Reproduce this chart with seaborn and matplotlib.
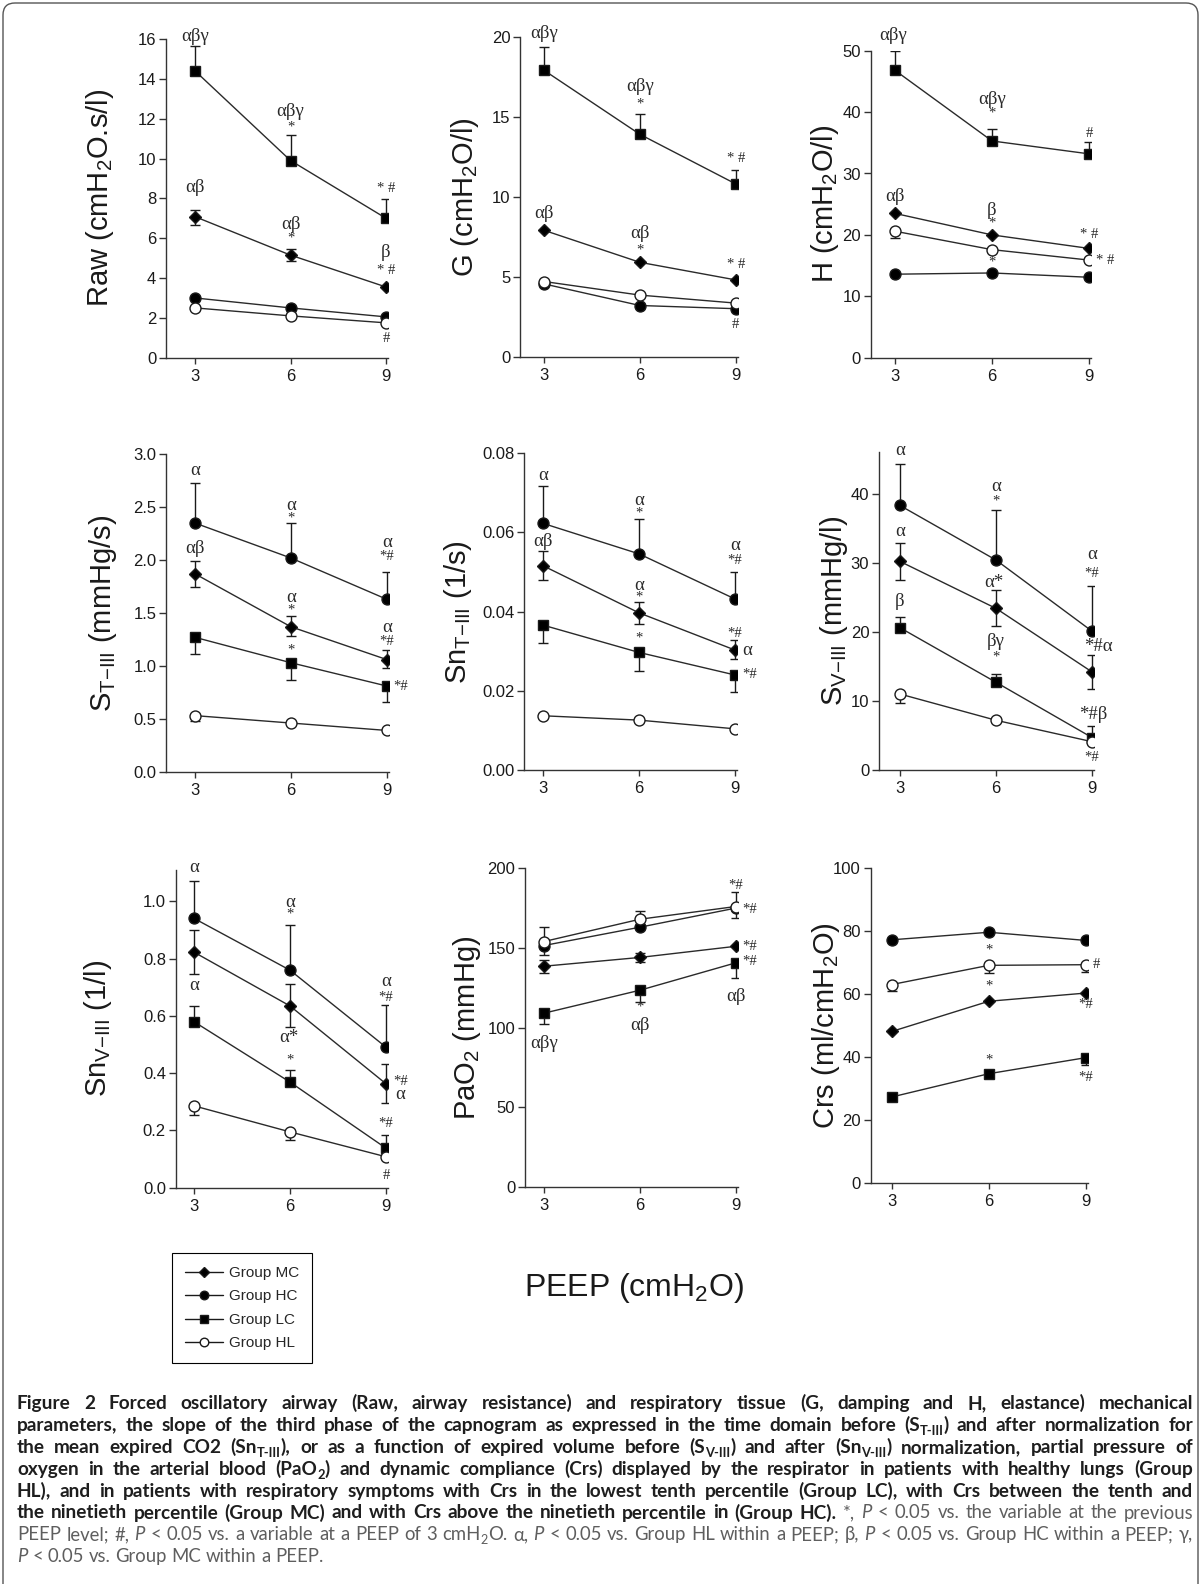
import re
import numpy as np
import pandas as pd
import matplotlib
matplotlib.use("Agg")
import matplotlib.pyplot as plt
import seaborn as sns
from matplotlib.lines import Line2D
from matplotlib.patches import FancyBboxPatch
from matplotlib.transforms import IdentityTransform
from matplotlib import font_manager

# ---------------- data ----------------
PEEP = [3, 6, 9]
GROUPS = ["MC", "HC", "LC", "HL"]
GROUP_LABELS = ["Group MC", "Group HC", "Group LC", "Group HL"]

raw_mean = {"MC": [7.08, 5.15, 3.55], "HC": [3.0, 2.5, 2.05], "LC": [14.4, 9.9, 7.0], "HL": [2.5, 2.1, 1.75]}
raw_hi = {"MC": [0.35, 0.3, 0.0], "LC": [1.25, 1.3, 0.95]}
raw_lo = {"MC": [0.4, 0.3, 0.0]}

g_mean = {"MC": [7.9, 5.9, 4.8], "HC": [4.55, 3.2, 3.0], "LC": [17.9, 13.9, 10.8], "HL": [4.7, 3.85, 3.35]}
g_hi = {"LC": [1.45, 1.3, 0.9]}
g_lo = {}

h_mean = {"MC": [23.5, 20.0, 17.8], "HC": [13.6, 13.8, 13.1], "LC": [46.8, 35.3, 33.2], "HL": [20.6, 17.6, 15.9]}
h_hi = {"LC": [3.2, 2.0, 2.0]}
h_lo = {"HL": [1.1, 0.0, 0.0]}

st_mean = {"MC": [1.87, 1.37, 1.06], "HC": [2.35, 2.02, 1.63], "LC": [1.27, 1.03, 0.81], "HL": [0.53, 0.46, 0.39]}
st_hi = {"MC": [0.12, 0.10, 0.09], "HC": [0.38, 0.33, 0.26]}
st_lo = {"MC": [0.12, 0.09, 0.08], "LC": [0.16, 0.16, 0.15], "HL": [0.05, 0.0, 0.0]}

snt_mean = {"MC": [0.0516, 0.0397, 0.0303], "HC": [0.0623, 0.0546, 0.0432], "LC": [0.0366, 0.0297, 0.0240], "HL": [0.0137, 0.0126, 0.0104]}
snt_hi = {"MC": [0.0036, 0.0028, 0.0025], "HC": [0.0095, 0.0087, 0.0069]}
snt_lo = {"MC": [0.0036, 0.0028, 0.0023], "LC": [0.0044, 0.0046, 0.0042]}

sv_mean = {"MC": [30.2, 23.4, 14.2], "HC": [38.3, 30.4, 20.1], "LC": [20.6, 12.7, 4.7], "HL": [11.0, 7.2, 4.1]}
sv_hi = {"MC": [2.7, 2.7, 2.5], "HC": [6.0, 7.2, 6.6], "LC": [1.6, 1.2, 1.7]}
sv_lo = {"MC": [2.7, 2.6, 2.5], "HL": [1.3, 0.0, 0.0]}

snv_mean = {"MC": [0.823, 0.635, 0.363], "HC": [0.941, 0.760, 0.491], "LC": [0.580, 0.369, 0.138], "HL": [0.286, 0.195, 0.108]}
snv_hi = {"MC": [0.079, 0.078, 0.068], "HC": [0.131, 0.158, 0.147], "LC": [0.055, 0.043, 0.046]}
snv_lo = {"MC": [0.078, 0.074, 0.068], "HL": [0.032, 0.028, 0.0]}

pao2_mean = {"MC": [138.5, 144.0, 151.0], "HC": [151.5, 163.0, 175.0], "LC": [109.0, 123.4, 140.6], "HL": [154.0, 168.0, 176.0]}
pao2_hi = {"MC": [4.0, 3.0, 0.0], "HL": [9.0, 5.0, 9.0]}
pao2_lo = {"MC": [4.0, 3.0, 0.0], "HC": [6.0, 0.0, 0.0], "LC": [7.0, 7.4, 9.2], "HL": [0.0, 0.0, 7.5]}

crs_mean = {"MC": [48.1, 57.7, 60.3], "HC": [77.2, 79.6, 77.0], "LC": [27.3, 34.7, 39.8], "HL": [63.0, 69.1, 69.3]}
crs_hi = {}
crs_lo = {"HL": [2.1, 2.4, 2.4], "LC": [0.0, 0.0, 2.2]}

raw_notes = [(3, 16.15, "αβγ"), (6, 12.35, "αβγ"), (6, 11.6, "*"), (9, 8.5, "* #"), (3, 8.55, "αβ"),
             (6, 6.7, "αβ"), (6, 6.0, "*"), (9, 5.3, "β"), (9, 4.4, "* #"), (9, 0.95, "#")]
g_notes = [(3, 20.2, "αβγ"), (6, 16.9, "αβγ"), (6, 15.8, "*"), (9, 12.4, "* #"), (3, 8.95, "αβ"),
           (6, 7.7, "αβ"), (6, 6.65, "*"), (9, 5.75, "* #"), (9, 2.0, "#")]
h_notes = [(2.95, 52.5, "αβγ"), (6, 42.0, "αβγ"), (6, 39.8, "*"), (9, 36.5, "#"), (3, 26.3, "αβ"),
           (6, 24.0, "β"), (6, 21.9, "*"), (9, 20.0, "* #"), (6, 15.5, "*"), (9.22, 15.9, "* #", "left")]
st_notes = [(3, 2.85, "α"), (6, 2.52, "α"), (6, 2.40, "*"), (9, 2.17, "α"), (9, 2.03, "*#"), (3, 2.11, "αβ"),
            (6, 1.65, "α"), (6, 1.53, "*"), (9, 1.36, "α"), (9, 1.23, "*#"), (6, 1.15, "*"), (9.22, 0.81, "*#", "left")]
snt_notes = [(3, 0.0745, "α"), (6, 0.0682, "α"), (6, 0.0648, "*"), (9, 0.0566, "α"), (9, 0.0528, "*#"),
             (3, 0.0577, "αβ"), (6, 0.0467, "α"), (6, 0.0436, "*"), (9, 0.0345, "*#"), (9.22, 0.0303, "α", "left"),
             (6, 0.0333, "*"), (9.22, 0.0242, "*#", "left")]
sv_notes = [(3, 46.2, "α"), (6, 41.1, "α"), (6, 39.0, "*"), (9, 31.2, "α"), (9, 28.5, "*#"), (3, 34.5, "α"),
            (5.92, 27.1, "α*"), (9.19, 17.9, "*#α"), (3, 24.4, "β"), (6, 18.6, "βγ"), (6, 16.4, "*"),
            (9.05, 8.0, "*#β"), (9, 1.8, "*#")]
snv_notes = [(3, 1.12, "α"), (6, 0.997, "α"), (6, 0.955, "*"), (9, 0.72, "α"), (9, 0.665, "*#"), (3, 0.705, "α"),
             (5.95, 0.525, "α*"), (9.45, 0.37, "*#"), (9.45, 0.324, "α"), (6, 0.445, "*"), (9, 0.223, "*#"),
             (9, 0.044, "#")]
pao2_notes = [(3, 90, "αβγ"), (6, 113, "*"), (6, 101.5, "αβ"), (9, 119.5, "αβ"), (9, 189, "*#"),
              (9.22, 174, "*#", "left"), (9.22, 151, "*#", "left"), (9.22, 141.5, "*#", "left")]
crs_notes = [(6, 74, "*"), (6, 62.5, "*"), (6, 39, "*"), (9, 56.8, "*#"), (9, 33.5, "*#"), (9.22, 69.3, "#", "left")]

YLABELS = ["Raw (cmH$_\\mathregular{2}$O.s/l)", "G (cmH$_\\mathregular{2}$O/l)", "H (cmH$_\\mathregular{2}$O/l)",
           "S$_\\mathregular{T{-}III}$ (mmHg/s)", "Sn$_\\mathregular{T{-}III}$ (1/s)", "S$_\\mathregular{V{-}III}$ (mmHg/l)",
           "Sn$_\\mathregular{V{-}III}$ (1/l)", "PaO$_\\mathregular{2}$ (mmHg)", "Crs (ml/cmH$_\\mathregular{2}$O)"]
YTICKS = [np.arange(0, 16.1, 2), np.arange(0, 20.1, 5), np.arange(0, 50.1, 10),
          np.arange(0, 3.01, 0.5), np.arange(0, 0.0801, 0.02), np.arange(0, 40.1, 10),
          np.arange(0, 1.01, 0.2), np.arange(0, 200.1, 50), np.arange(0, 100.1, 20)]
YFMT = ["{:.0f}", "{:.0f}", "{:.0f}", "{:.1f}", "{:.2f}", "{:.0f}", "{:.1f}", "{:.0f}", "{:.0f}"]
XLABEL = "PEEP (cmH$_\\mathregular{2}$O)"

PANEL_DATA = [(raw_mean, raw_hi, raw_lo, raw_notes), (g_mean, g_hi, g_lo, g_notes), (h_mean, h_hi, h_lo, h_notes),
              (st_mean, st_hi, st_lo, st_notes), (snt_mean, snt_hi, snt_lo, snt_notes), (sv_mean, sv_hi, sv_lo, sv_notes),
              (snv_mean, snv_hi, snv_lo, snv_notes), (pao2_mean, pao2_hi, pao2_lo, pao2_notes),
              (crs_mean, crs_hi, crs_lo, crs_notes)]

CAPTION = [
    [("b", "Figure 2 Forced oscillatory airway (Raw, airway resistance) and respiratory tissue (G, damping and H, elastance) mechanical")],
    [("b", "parameters, the slope of the third phase of the capnogram as expressed in the time domain before (S_{T-III}) and after normalization for")],
    [("b", "the mean expired CO2 (Sn_{T-III}), or as a function of expired volume before (S_{V-III}) and after (Sn_{V-III}) normalization, partial pressure of")],
    [("b", "oxygen in the arterial blood (PaO_{2}) and dynamic compliance (Crs) displayed by the respirator in patients with healthy lungs (Group")],
    [("b", "HL), and in patients with respiratory symptoms with Crs in the lowest tenth percentile (Group LC), with Crs between the tenth and")],
    [("b", "the ninetieth percentile (Group MC) and with Crs above the ninetieth percentile in (Group HC)."),
     ("r", "*, ~P~ < 0.05 vs. the variable at the previous")],
    [("r", "PEEP level; #, ~P~ < 0.05 vs. a variable at a PEEP of 3 cmH_{2}O. α, ~P~ < 0.05 vs. Group HL within a PEEP; β, ~P~ < 0.05 vs. Group HC within a PEEP; γ,")],
    [("r", "~P~ < 0.05 vs. Group MC within a PEEP.")],
]

# ---------------- layout (pixels) ----------------
W, H = 1203, 1584
# left spine x, x of PEEP 3, x of PEEP 9, y of zero, y of axis top, value at axis top, ylabel centre x
LAYOUT = [
    (166, 195, 386, 357.7, 39.0, 16, 100),
    (520, 544, 735.7, 356.7, 36.7, 20, 465),
    (870.7, 895, 1089, 357.7, 50.7, 50, 825),
    (166, 195, 386.7, 771.7, 454.3, 3.0, 103),
    (524, 543, 735, 770, 453.3, 0.08, 458),
    (879, 900, 1092, 770, 452.3, 46.0, 834),
    (175.7, 194, 386, 1187.7, 870, 1.11, 98),
    (525, 544, 735.7, 1186.7, 868.3, 200, 467),
    (870.7, 891.7, 1086, 1183, 868, 100, 826),
]
MARKERS = {"MC": ("D", "black", 6.0), "HC": ("o", "black", 7.9), "LC": ("s", "black", 7.9), "HL": ("o", "white", 7.9)}

sns.set_theme(style="ticks")
plt.rcParams["font.family"] = ["Liberation Sans", "DejaVu Sans"]
plt.rcParams["mathtext.fontset"] = "custom"
plt.rcParams["mathtext.rm"] = "Liberation Sans"
plt.rcParams["mathtext.it"] = "Liberation Sans:italic"
plt.rcParams["mathtext.bf"] = "Liberation Sans:bold"
SERIF = ["Liberation Serif", "DejaVu Serif"]
INK = "#1a1a1a"

fig = plt.figure(figsize=(W / 100, H / 100), dpi=100, facecolor="white")

for i, ((mean, hi, lo, notes), lay) in enumerate(zip(PANEL_DATA, LAYOUT)):
    left, x3, x9, y0, ytop, ymax, labx = lay
    u = (x9 - x3) / 6.0
    xmin = 3 - (x3 - left) / u
    xmax = 9.06
    right = x9 + 0.06 * u
    ax = fig.add_axes([left / W, 1 - y0 / H, (right - left) / W, (y0 - ytop) / H])
    ax.set_facecolor("none")
    rows = []
    for g in GROUPS:
        for p, v in zip(PEEP, mean[g]):
            rows.append({"peep": p, "value": v, "group": g})
    df = pd.DataFrame(rows)
    for g in GROUPS:
        e_hi = hi.get(g, [0, 0, 0])
        e_lo = lo.get(g, [0, 0, 0])
        if any(e_hi) or any(e_lo):
            ax.errorbar(PEEP, mean[g], yerr=[e_lo, e_hi], fmt="none", ecolor=INK,
                        elinewidth=1.0, capsize=3.6, capthick=1.0, zorder=2)
    for g in GROUPS:
        mk, fc, ms = MARKERS[g]
        sns.lineplot(data=df[df["group"] == g], x="peep", y="value", ax=ax, color="#2a2a2a",
                     linewidth=1.0, marker=mk, markersize=ms, markerfacecolor=fc,
                     markeredgecolor=INK, markeredgewidth=1.0, errorbar=None,
                     legend=False, zorder=3)
    ax.set_xlim(xmin, xmax)
    ax.set_ylim(0, ymax)
    ax.set_xticks(PEEP)
    ax.set_xticklabels([str(p) for p in PEEP])
    ax.set_yticks(YTICKS[i])
    ax.set_yticklabels([YFMT[i].format(t) for t in YTICKS[i]])
    ax.set_xlabel("")
    ax.set_ylabel(YLABELS[i], fontsize=21, color=INK)
    ax.yaxis.label.set_va("center")
    ax.yaxis.set_label_coords((labx - left) / (right - left), 0.5)
    sns.despine(ax=ax)
    for s in ["left", "bottom"]:
        ax.spines[s].set_color("#333333")
        ax.spines[s].set_linewidth(1.0)
    ax.tick_params(axis="y", direction="out", length=5, width=1, labelsize=12, pad=2,
                   color="#333333", labelcolor=INK)
    ax.tick_params(axis="x", direction="out", length=4, width=1, labelsize=12, pad=4,
                   color="#333333", labelcolor=INK)
    for n in notes:
        x, y, s = n[0], n[1], n[2]
        ha = n[3] if len(n) > 3 else "center"
        only_sym = all(c in "*# " for c in s)
        ax.text(x, y, s, ha=ha, va="center", fontsize=10.5 if only_sym else 13.5,
                family=SERIF, color="#2a2a2a", clip_on=False, zorder=4)

# common x label
fig.text(634 / W, 1 - 1288 / H, XLABEL, ha="center", va="center", fontsize=23, color=INK)

# legend
handles = [Line2D([], [], color=INK, lw=1.0, marker=MARKERS[g][0], markersize=MARKERS[g][2] * 0.78,
                  markerfacecolor=MARKERS[g][1], markeredgecolor=INK) for g in GROUPS]
leg = fig.legend(handles, GROUP_LABELS, loc="upper left", bbox_to_anchor=(172 / W, 1 - 1253 / H),
                 frameon=True, fancybox=False, edgecolor="black", framealpha=1, fontsize=11,
                 handlelength=2.5, handletextpad=0.35, labelspacing=0.62, borderpad=0.85,
                 borderaxespad=0)
leg.get_frame().set_linewidth(0.8)

# border
fig.add_artist(FancyBboxPatch((0.03, -0.3), 11.95, (H - 3) / 100 + 0.3,
                              boxstyle="round,pad=0,rounding_size=0.12",
                              transform=fig.dpi_scale_trans, facecolor="none",
                              edgecolor="#555555", linewidth=1.0))

# caption
names = {f.name for f in font_manager.fontManager.ttflist}
if "Liberation Sans Narrow" in names:
    CAP_FAMILY = ["Liberation Sans Narrow", "DejaVu Sans"]
elif "Lato" in names:
    CAP_FAMILY = ["Lato", "DejaVu Sans"]
else:
    CAP_FAMILY = ["Liberation Sans", "DejaVu Sans"]
CAP_SIZE = 12.0
CAP_BOLD, CAP_REG = "#1e1e1e", "#5e5e5e"


def parse_word(word, style):
    segs = []
    for part in re.split(r"(_\{[^}]*\}|~[^~]*~)", word):
        if not part:
            continue
        if part.startswith("_{"):
            segs.append((part[2:-1], style, True, False))
        elif part.startswith("~"):
            segs.append((part[1:-1], style, False, True))
        else:
            segs.append((part, style, False, False))
    return segs


def draw_caption(lines, x0, x1, base0, step):
    renderer = fig.canvas.get_renderer()
    ident = IdentityTransform()
    built = []
    for chunks in lines:
        words = []
        for style, text in chunks:
            for w in text.split(" "):
                if not w:
                    continue
                segs = []
                for s, st, sub, it in parse_word(w, style):
                    t = fig.text(0, 0, s, transform=ident, family=CAP_FAMILY,
                                 fontsize=CAP_SIZE * (0.68 if sub else 1.0),
                                 weight="bold" if st == "b" else "normal",
                                 style="italic" if it else "normal",
                                 color=CAP_BOLD if st == "b" else CAP_REG,
                                 ha="left", va="baseline")
                    segs.append((t, sub, st))
                words.append(segs)
        built.append(words)
    sp = fig.text(0, 0, "a a", transform=ident, family=CAP_FAMILY, fontsize=CAP_SIZE)
    sq = fig.text(0, 0, "aa", transform=ident, family=CAP_FAMILY, fontsize=CAP_SIZE)
    space = sp.get_window_extent(renderer).width - sq.get_window_extent(renderer).width
    sp.remove(); sq.remove()
    avail = x1 - x0

    def natural(ws):
        return sum(t.get_window_extent(renderer).width for segs in ws for t, _, _ in segs)

    fits_b = []
    fits_r = []
    for ws in built:
        styles = {st for segs in ws for _, _, st in segs}
        nat = natural(ws)
        if styles == {"b"}:
            fits_b.append(CAP_SIZE * avail / (nat + 1.7 * space * (len(ws) - 1)))
        elif styles == {"r"} and len(ws) > 10:
            fits_r.append(CAP_SIZE * avail / (nat + 1.15 * space * (len(ws) - 1)))
    sb = min(14.0, min(fits_b))
    sr = min(13.5, min(fits_r))
    for ws in built:
        for segs in ws:
            for t, sub, st in segs:
                base_size = sb if st == "b" else sr
                t.set_fontsize(base_size * (0.68 if sub else 1.0))
    space_r = space * sr / CAP_SIZE
    for li, ws in enumerate(built):
        wd = [sum(t.get_window_extent(renderer).width for t, _, _ in segs) for segs in ws]
        if li < len(built) - 1 and len(ws) > 1:
            gap = (avail - sum(wd)) / (len(ws) - 1)
        else:
            gap = space_r
        base = H - (base0 + li * step)
        x = x0
        for segs, w in zip(ws, wd):
            cx = x
            for t, sub, st in segs:
                size = sb if st == "b" else sr
                dy = -0.22 * size * 100 / 72 if sub else 0
                t.set_position((cx, base + dy))
                cx += t.get_window_extent(renderer).width
            x += w + gap


draw_caption(CAPTION, 17, 1193, 1409, 21.9)

fig.savefig("out.png", dpi=100, facecolor="white")
